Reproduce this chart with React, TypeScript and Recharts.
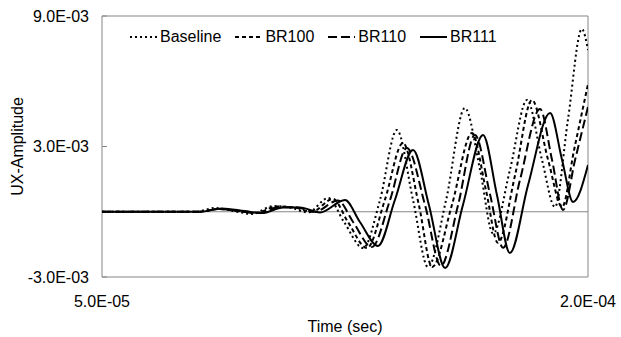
import React from 'react';
import { LineChart, Line, XAxis, YAxis, ReferenceLine, ReferenceArea, Legend } from 'recharts';

// time in microseconds, amplitude in 1e-3 units
const baselineT = [50, 78.7, 84.9, 91.7, 96.3, 102.8, 108.0, 113.6, 119.8, 124.7, 130.6, 135.8, 141.0, 146.0, 150.6, 156.2, 162.0, 166.7, 170.7, 175.9, 181.2, 185.8, 189.8, 193.8, 198.1, 200];
const baselineY = [0, 0, 0.17, 0, -0.1, 0.26, 0.2, -0.03, 0.63, -0.47, -1.67, 0.54, 3.76, 0.54, -2.54, 0.54, 4.77, 1.92, -1.0, 1.92, 5.14, 2.38, 0.22, 4.22, 8.4, 7.44];

const br100T = [50, 80.2, 85.8, 92.6, 97.2, 104.0, 109.3, 114.8, 121.3, 125.9, 131.8, 137.3, 142.9, 147.8, 151.9, 158.0, 164.2, 168.5, 172.2, 177.5, 182.7, 187.7, 192.0, 195.7, 200];
const br100Y = [0, 0, 0.13, 0.01, -0.06, 0.24, 0.2, 0, 0.59, -0.47, -1.67, 0.54, 3.16, 0.31, -2.54, 0.31, 3.62, 1.0, -1.43, 1.69, 5.14, 2.38, 0.22, 2.84, 5.87];

const br110T = [50, 80.2, 86.4, 93.5, 98.1, 104.9, 110.2, 115.7, 122.8, 127.5, 133.3, 138.9, 144.1, 149.7, 154.6, 159.9, 165.1, 169.8, 173.8, 179.0, 185.2, 188.9, 192.3, 196.0, 200];
const br110Y = [0, 0, 0.13, 0.01, -0.06, 0.22, 0.2, 0, 0.52, -0.47, -1.62, 0.54, 2.93, 0.31, -2.49, 0.31, 3.53, 0.77, -1.66, 1.46, 4.72, 2.38, 0.08, 2.38, 4.82];

const br111T = [50, 80.2, 87.0, 94.1, 99.4, 105.9, 111.1, 117.3, 125.0, 129.6, 135.2, 140.4, 146.0, 150.9, 155.9, 161.4, 167.6, 171.9, 175.9, 181.5, 188.3, 192.0, 195.4, 200];
const br111Y = [0, 0, 0.15, 0.03, -0.06, 0.2, 0.2, -0.03, 0.54, -0.47, -1.57, 0.54, 2.84, 0.31, -2.59, 0.31, 3.53, 0.77, -1.9, 1.23, 4.54, 2.38, 0.45, 2.15];

const seriesNames = ['Baseline', 'BR100', 'BR110', 'BR111'];
const xTicks = [5e-5, 2e-4];
const yTicks = [-3e-3, 3e-3, 9e-3];

const build = (ts: number[], ys: number[]) => ts.map((t, i) => ({ t: t * 1e-6, v: ys[i] * 1e-3 }));

const series = [
  { name: seriesNames[0], data: build(baselineT, baselineY), dash: '2 3' },
  { name: seriesNames[1], data: build(br100T, br100Y), dash: '4 3' },
  { name: seriesNames[2], data: build(br110T, br110Y), dash: '9 4' },
  { name: seriesNames[3], data: build(br111T, br111Y), dash: undefined },
];

const fmt = (v: number) => {
  const [m, e] = v.toExponential(1).split('e');
  const exp = parseInt(e, 10);
  return `${m}E${exp < 0 ? '-' : '+'}${String(Math.abs(exp)).padStart(2, '0')}`;
};

const FONT = '"Liberation Sans", Arial, sans-serif';

const renderLegend = () => (
  <div style={{ display: 'flex', alignItems: 'center', fontFamily: FONT, fontSize: 16, color: '#000', whiteSpace: 'nowrap' }}>
    {series.map((s) => (
      <div key={s.name} style={{ display: 'flex', alignItems: 'center', marginRight: 14 }}>
        <svg width={27} height={10} style={{ marginRight: 3 }}>
          <line x1={0} y1={5} x2={27} y2={5} stroke="#000" strokeWidth={2} strokeDasharray={s.dash} />
        </svg>
        <span>{s.name}</span>
      </div>
    ))}
  </div>
);

const YLabel = (props: any) => {
  const vb = props.viewBox || {};
  const cx = 17;
  const cy = (vb.y ?? 16) + (vb.height ?? 261) / 2;
  return (
    <text x={cx} y={cy} transform={`rotate(-90, ${cx}, ${cy})`} textAnchor="middle" dominantBaseline="central"
      fontFamily={FONT} fontSize={16} fill="#000">UX-Amplitude</text>
  );
};

export default function App() {
  return (
    <div style={{ position: 'absolute', left: 0, top: 0, background: '#fff' }}>
      <LineChart width={621} height={337} margin={{ top: 16, right: 33, bottom: 0, left: 0 }}>
        <XAxis type="number" dataKey="t" domain={[5e-5, 2e-4]} ticks={xTicks} allowDataOverflow
          tickFormatter={fmt} axisLine={false} tickLine={false} tickSize={0} tickMargin={19} height={60}
          tick={{ fontFamily: FONT, fontSize: 16, fill: '#000' }}
          label={{ value: 'Time (sec)', position: 'insideBottom', offset: 5, fontFamily: FONT, fontSize: 16, fill: '#000' }} />
        <YAxis type="number" dataKey="v" domain={[-3e-3, 9e-3]} ticks={yTicks} allowDataOverflow
          tickFormatter={fmt} axisLine={false} tickLine={{ stroke: '#868686' }} tickSize={-5} tickMargin={18} width={102}
          tick={{ fontFamily: FONT, fontSize: 16, fill: '#000' }}
          label={<YLabel />} />
        <ReferenceArea x1={5e-5} x2={2e-4} y1={-3e-3} y2={9e-3} fill="none" stroke="#868686" strokeWidth={1} ifOverflow="visible" />
        <ReferenceLine y={0} stroke="#868686" strokeWidth={1} />
        {series.map((s) => (
          <Line key={s.name} data={s.data} dataKey="v" name={s.name} type="monotone" stroke="#000" strokeWidth={2}
            strokeDasharray={s.dash} dot={false} activeDot={false} isAnimationActive={false} />
        ))}
        <Legend content={renderLegend} layout="horizontal" verticalAlign="middle" align="center"
          wrapperStyle={{ position: 'absolute', top: 28, left: 130, width: 'auto' }} />
      </LineChart>
    </div>
  );
}
